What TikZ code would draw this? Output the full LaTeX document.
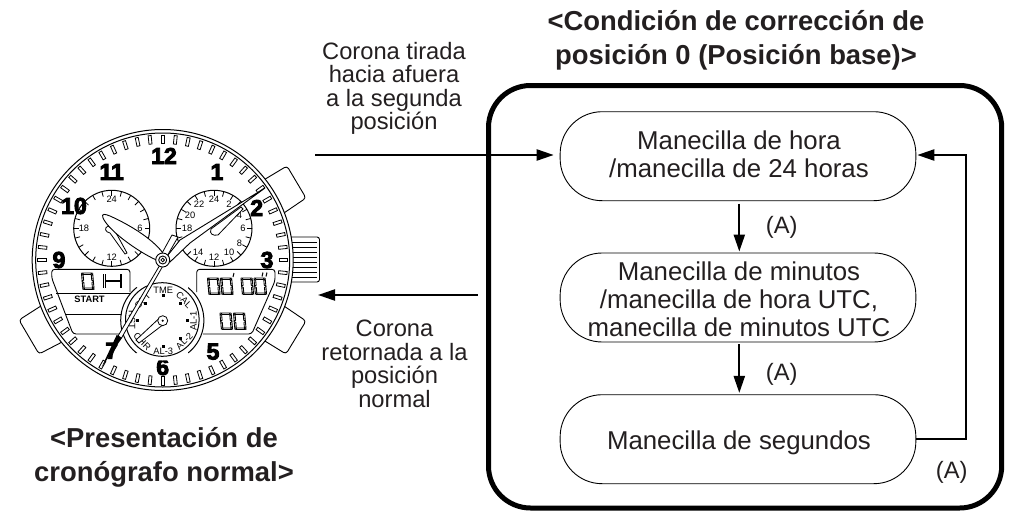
\documentclass[tikz,border=0pt]{standalone}
\usepackage{fontspec}
\setmainfont{Liberation Sans}
\newfontfamily\heavy{Liberation Sans Bold}[FakeBold=4]
\usetikzlibrary{arrows.meta}
\definecolor{ink}{HTML}{231F20}
\tikzset{
  x=1pt,y=-1pt,
  lab/.style={align=center,font=\fontsize{23.7}{23.5}\selectfont,inner sep=0pt,text=ink},
  head/.style={align=center,font=\bfseries\fontsize{27.4}{34}\selectfont,inner sep=0pt,text=ink},
  flow/.style={draw,line width=.9pt,rounded corners=42pt,minimum width=355.7pt,minimum height=89pt,inner sep=0pt,fill=white},
  flowtext/.style={align=center,font=\fontsize{25.8}{28}\selectfont,inner sep=0pt,text=ink},
  conn/.style={line width=2.2pt,-{Triangle[length=17pt,width=11pt]}},
  num/.style={font=\heavy\fontsize{23}{25}\selectfont,inner sep=0pt},
  sub/.style={font=\fontsize{9.3}{10}\selectfont,inner sep=0pt},
  subdial/.style={draw,line width=1pt,fill=white},
  seg/.style={line width=.85pt},
}
\newcommand{\dial}[3]{\node[sub] at (#1,#2) {#3};}
\newcommand{\zerod}[2]{%
 \begin{scope}[shift={(#1,#2)},seg,xscale=1.1,xslant=-.08]
  \draw (1.2,0)--(9.8,0)--(8.8,1.5)--(2.2,1.5)--cycle;
  \draw (1.2,16.5)--(9.8,16.5)--(8.8,15)--(2.2,15)--cycle;
  \draw (.4,.8)--(1.8,2.2)--(1.8,7.2)--(.4,8)--cycle;
  \draw (.4,8.6)--(1.8,9.4)--(1.8,14.4)--(.4,15.7)--cycle;
  \draw (10.6,.8)--(9.2,2.2)--(9.2,7.2)--(10.6,8)--cycle;
  \draw (10.6,8.6)--(9.2,9.4)--(9.2,14.4)--(10.6,15.7)--cycle;
 \end{scope}}
\begin{document}
\begin{tikzpicture}
\useasboundingbox (0,0) rectangle (1009,511);
% texts
\node[head] (h1) at (736,40) {<Condición de corrección de\\posición 0 (Posición base)>};
\node[head] (h2) at (164,457) {<Presentación de\\cronógrafo normal>};
\node[lab] (t1) at (394,88.5) {Corona tirada\\hacia afuera\\a la segunda\\posición};
\node[lab] (t2) at (394.5,364) {Corona\\retornada a la\\posición\\normal};
% frame
\draw[line width=5pt,rounded corners=42pt] (488.5,85.5) rectangle (1001.7,508);
% flow
\node[flow,label={[flowtext,yshift=2pt,xshift=1pt]center:{Manecilla de hora\\/manecilla de 24 horas}}] (a) at (738,156.2) {};
\node[flow,label={[flowtext,yshift=-2pt,xshift=1pt]center:{Manecilla de minutos\\/manecilla de hora UTC,\\manecilla de minutos UTC}}] (b) at (738,297.5) {};
\node[flow,label={[flowtext,yshift=-4pt,xshift=1pt]center:{Manecilla de segundos}}] (c) at (738,439.2) {};
\coordinate (in) at (315,155);
\coordinate (out) at (477.5,295);
\coordinate (wo) at (318,295);
\coordinate (r1) at (966,439.2);
\coordinate (r2) at (966,155);
\draw[conn,shorten >=6pt] (in) -- ([yshift=1.2pt]a.west);
\draw[conn] (out) -- (wo);
\draw[conn,shorten <=2.5pt,shorten >=1pt] ([xshift=1.3pt]a.south) -- ([xshift=1.3pt]b.north);
\draw[conn,shorten <=1.7pt,shorten >=1.3pt] ([xshift=1.3pt]b.south) -- ([xshift=1.3pt]c.north);
\draw[conn,shorten >=1pt] (c.east) -- (r1) -- (r2) -- ([yshift=1.2pt]a.east);
\node[lab] (la1) at (781.7,227.3) {(A)};
\node[lab] (la2) at (781.7,374) {(A)};
\node[lab] (la3) at (951.7,472) {(A)};
% pushers
\draw[line width=.9pt,rounded corners=3pt,fill=white] (262,181)--(287,166)--(306,198)--(281,215)--cycle;
\draw[line width=.9pt,rounded corners=3pt,fill=white] (44,304)--(19,320)--(39,354)--(66,340)--cycle;
\draw[line width=.9pt,rounded corners=3pt,fill=white] (281,304)--(306,321)--(286,354)--(260,338)--cycle;
% crown
\draw[line width=.9pt,rounded corners=2.5pt,fill=white] (288,237)--(319.5,237)--(319.5,282)--(288,282)--cycle;
\foreach \y in {242,247,252,257,262,267,272,277}
  \draw[line width=.8pt] (292,\y)--(317,\y);
% watch case
\draw[line width=1pt,fill=white] (162.7,260) circle (130.5);
\draw[line width=1pt] (162.7,260) circle (127);
\foreach \a in {0,6,...,354}
  \draw[line width=.8pt,fill=white,rotate around={\a:(162.7,260)}] (161.2,135) rectangle (164.2,143.5);
% subdials
\foreach \cx in {111.7,214}{
 \draw[subdial] (\cx,228.3) circle (38);
 \foreach \a in {0,15,...,345}
   \draw[line width=.8pt,rotate around={\a:(\cx,228.3)}] (\cx,190.3)--(\cx,195.5);
}
\dial{111.7}{199.5}{24}\dial{140}{228.3}{6}\dial{111.7}{257.5}{12}\dial{84}{228.3}{18}
\dial{214}{199}{24}\dial{199}{204.5}{22}\dial{190}{215.5}{20}\dial{187}{228.3}{18}
\dial{198}{252.5}{14}\dial{214}{257.5}{12}\dial{229}{252.5}{10}\dial{239.5}{243.5}{8}\dial{243}{228.3}{6}\dial{239.5}{215}{4}\dial{229}{204.5}{2}
% numerals
\node[num] at (164,156) {12};
\node[num] at (217,172) {1};
\node[num] at (256.7,208) {2};
\node[num] at (267,260) {3};
\node[num] at (213,351.7) {5};
\node[num] at (162.7,367) {6};
\node[num] at (111.7,350.7) {7};
\node[num] at (59,260) {9};
\node[num] at (74,206) {10};
\node[num] at (111.7,172) {11};
% LCD left
\draw[line width=.9pt,fill=white,rounded corners=3pt] (130,292)--(130,269.3)--(51.7,269.3)--(51.7,278)--(73,334)--(123,334);
\draw[line width=.8pt] (56,293.3)--(130,293.3);
\draw[line width=.8pt] (65,314)--(122,314);
\node[font=\bfseries\fontsize{9.3}{9}\selectfont,inner sep=0pt] at (89.5,299.3) {START};
\zerod{81}{273}
\draw[seg] (103.5,274)--(103.5,288) (105,274)--(105,288) (120,274)--(120,288) (121.5,274)--(121.5,288) (105,280.3)--(120,280.3) (105,281.7)--(120,281.7);
% LCD right
\draw[line width=.9pt,fill=white,rounded corners=3pt] (196.7,292)--(196.7,269.3)--(275,269.3)--(275,281)--(251.7,334)--(203,334);
\zerod{207}{278}\zerod{220}{278}\zerod{240.5}{278}\zerod{253.5}{278}
\zerod{219.5}{313}\zerod{233}{313}
\draw[line width=1pt] (234,273)--(233,277) (263,272.5)--(262,276.5) (267,272.5)--(266,276.5);
% bottom dial
\fill[white] (162.3,319.5) circle (41);
\begin{scope}
 \clip (110,287) rectangle (137,353) (188,287) rectangle (215,353);
 \draw[line width=1pt] (162.3,320.3) circle (41.6);
\end{scope}
\draw[line width=1pt,fill=white] (162.3,319.5) circle (36.8);
\foreach \px/\py in {163.3/295.7,180/303,187.7/320,180/338,163.3/346,137.7/320,145.7/303}
  \fill (\px-1.5,\py-1.5) rectangle (\px+1.5,\py+1.5);
\foreach \r/\tx/\ty/\t in {0/163.3/290.7/TME,-45/184/300/CAL,90/193.3/320.7/AL-1,45/184.3/341/AL-2,0/163.3/351/AL-3,-45/142.3/341.7/CHR,-90/132/320/RST,45/142.7/300.7/SPT}
  \node[sub,rotate=\r] at (\tx,\ty) {\t};
\draw[line width=.8pt,fill=white] (159.5,318)--(136,340)--(139,343)--(164,324)--cycle;
\draw[line width=.8pt,fill=white] (162.7,320.7) circle (5);
\fill (162.7,320.7) circle (1.2);
% sub hands
\draw[line width=.8pt,fill=white] (108,226) .. controls (104,228) and (105,232) .. (110,233) -- (125,254) -- (127,253) -- (115,231) -- cycle;
\draw[line width=.8pt,fill=white] (211,229) .. controls (209,234) and (213,236) .. (218,235) -- (243,209) -- (241,207) -- cycle;
% hands
\draw[line width=.9pt,fill=white] (159,261) .. controls (145,256) and (110,233) .. (103,218) .. controls (101,213) and (105,214) .. (110,216) .. controls (130,225) and (155,240) .. (165,256) -- cycle;
\draw[line width=.9pt,fill=white] (168,255) -- (180,240) -- (265,188) -- (190,243) -- (170,262) -- cycle;
\draw[line width=.8pt,fill=white] (161,255) -- (172,235) -- (178,237) -- (166,258) -- cycle;
\draw[line width=.8pt,fill=white] (160.5,264) -- (118,336) -- (121.5,338) -- (164,264) -- cycle;
\fill (116.7,335) -- (122,338) -- (101.7,367) -- cycle;
\draw[line width=.9pt,fill=white] (162.7,260) circle (7);
\draw[line width=.9pt,fill=white] (162.7,260) circle (4);
\draw[line width=.8pt] (162.7,260) circle (1.8);
\end{tikzpicture}
\end{document}
